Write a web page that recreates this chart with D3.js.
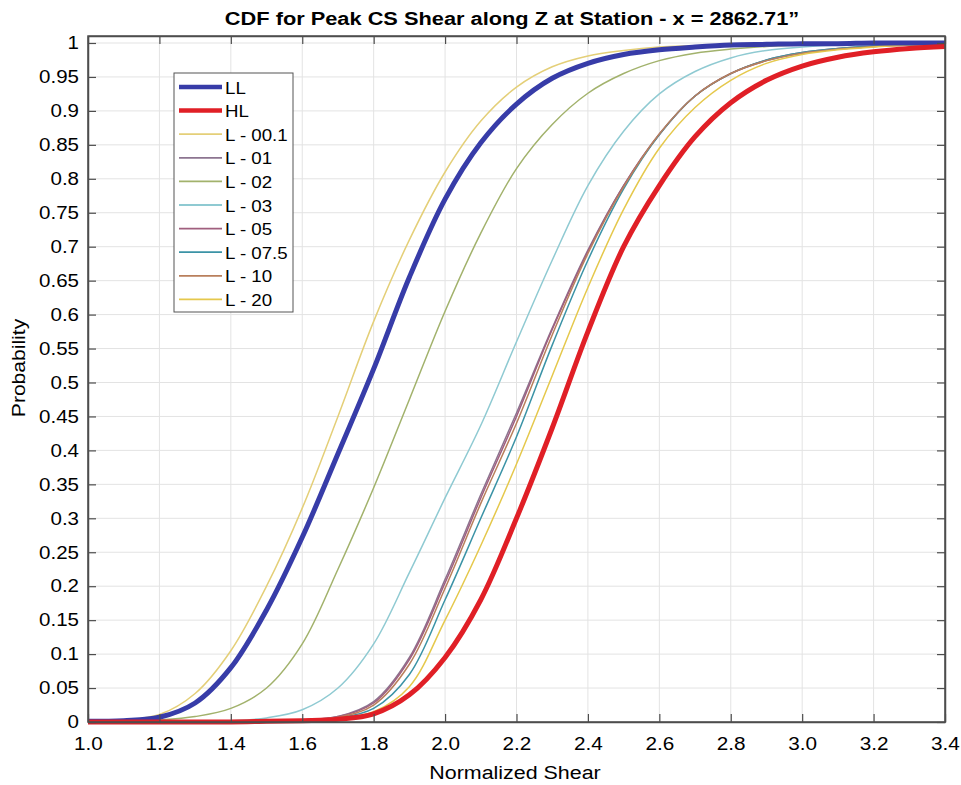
<!DOCTYPE html>
<html>
<head>
<meta charset="utf-8">
<script src="https://cdn.jsdelivr.net/npm/d3@7"></script>
<style>
  body { margin: 0; background: #fff; }
  text { font-family: "Liberation Sans", Arial, Helvetica, sans-serif; fill: #000; }
</style>
</head>
<body>
<div id="chart"></div>
<script>
// shear values where each CDF was read
const shear = [1.0, 1.1, 1.2, 1.3, 1.4, 1.5, 1.6, 1.7, 1.8, 1.9, 2.0, 2.1, 2.2,
  2.3, 2.4, 2.5, 2.6, 2.7, 2.8, 2.9, 3.0, 3.1, 3.2, 3.3, 3.4];

const seriesNames = ["LL", "HL", "L - 00.1", "L - 01", "L - 02", "L - 03", "L - 05", "L - 07.5", "L - 10", "L - 20"];

const cdfLL   = [0.001, 0.002, 0.007, 0.028, 0.08, 0.165, 0.272, 0.395, 0.52, 0.655, 0.77, 0.853, 0.91, 0.948, 0.97, 0.983, 0.99, 0.994, 0.997, 0.998, 0.999, 0.999, 1, 1, 1];
const cdfHL   = [0, 0, 0, 0, 0, 0.001, 0.002, 0.004, 0.012, 0.04, 0.095, 0.18, 0.3, 0.433, 0.575, 0.7, 0.79, 0.862, 0.912, 0.945, 0.966, 0.979, 0.987, 0.992, 0.995];
const cdfL001 = [0.001, 0.003, 0.011, 0.042, 0.105, 0.2, 0.315, 0.45, 0.59, 0.71, 0.81, 0.885, 0.935, 0.965, 0.981, 0.989, 0.994, 0.996, 0.998, 0.999, 0.999, 1, 1, 1, 1];
const cdfL01  = [0, 0, 0, 0.001, 0.001, 0.002, 0.003, 0.008, 0.03, 0.095, 0.21, 0.335, 0.455, 0.58, 0.695, 0.79, 0.865, 0.922, 0.955, 0.975, 0.986, 0.992, 0.995, 0.998, 0.999];
const cdfL02  = [0, 0.001, 0.003, 0.008, 0.02, 0.05, 0.115, 0.225, 0.345, 0.475, 0.605, 0.72, 0.815, 0.88, 0.926, 0.955, 0.974, 0.985, 0.991, 0.995, 0.997, 0.998, 0.999, 1, 1];
const cdfL03  = [0, 0, 0.001, 0.001, 0.002, 0.006, 0.018, 0.05, 0.115, 0.22, 0.33, 0.437, 0.56, 0.68, 0.79, 0.87, 0.925, 0.958, 0.978, 0.989, 0.994, 0.997, 0.998, 0.999, 1];
const cdfL05  = [0, 0, 0, 0.001, 0.001, 0.002, 0.003, 0.008, 0.028, 0.092, 0.205, 0.33, 0.45, 0.578, 0.693, 0.79, 0.866, 0.922, 0.955, 0.974, 0.985, 0.991, 0.995, 0.997, 0.999];
const cdfL075 = [0, 0, 0, 0, 0.001, 0.001, 0.002, 0.006, 0.02, 0.07, 0.18, 0.3, 0.42, 0.555, 0.68, 0.785, 0.865, 0.922, 0.955, 0.975, 0.986, 0.992, 0.996, 0.998, 0.999];
const cdfL10  = [0, 0, 0, 0, 0.001, 0.001, 0.003, 0.007, 0.025, 0.085, 0.197, 0.322, 0.44, 0.57, 0.69, 0.788, 0.866, 0.922, 0.955, 0.974, 0.985, 0.991, 0.995, 0.997, 0.999];
const cdfL20  = [0, 0, 0, 0, 0.001, 0.001, 0.002, 0.005, 0.015, 0.052, 0.15, 0.26, 0.38, 0.51, 0.64, 0.755, 0.845, 0.905, 0.945, 0.97, 0.983, 0.99, 0.994, 0.997, 0.998];

const xTickLabels = ["1.0", "1.2", "1.4", "1.6", "1.8", "2.0", "2.2", "2.4", "2.6", "2.8", "3.0", "3.2", "3.4"];
const yTickLabels = ["0", "0.05", "0.1", "0.15", "0.2", "0.25", "0.3", "0.35", "0.4", "0.45", "0.5",
  "0.55", "0.6", "0.65", "0.7", "0.75", "0.8", "0.85", "0.9", "0.95", "1"];

const colors = ["#373ca8", "#e01f26", "#e4cf78", "#8c7490", "#a2b26c", "#8fcad2", "#a05f7e", "#3b93a6", "#b97f5c", "#e5c84c"];
const widths = [5, 5, 1.5, 1.5, 1.5, 1.5, 1.5, 1.5, 1.5, 1.5];

const allCdf = [cdfLL, cdfHL, cdfL001, cdfL01, cdfL02, cdfL03, cdfL05, cdfL075, cdfL10, cdfL20];

const W = 961, H = 785;
const margin = {left: 88, right: 16, top: 36, bottom: 63};

const svg = d3.select("#chart").append("svg")
  .attr("width", W)
  .attr("height", H);

const x = d3.scaleLinear().domain([1.0, 3.4]).range([margin.left, W - margin.right]);
const y = d3.scaleLinear().domain([0, 1.0103]).range([H - margin.bottom, margin.top]);

const x0 = x.range()[0], x1 = x.range()[1];
const y0 = y.range()[0], y1 = y.range()[1];

// grid
const xTickVals = xTickLabels.map(Number);
const yTickVals = yTickLabels.map(Number);

svg.append("g").selectAll("line")
  .data(xTickVals)
  .enter().append("line")
  .attr("x1", d => x(d)).attr("x2", d => x(d))
  .attr("y1", y0).attr("y2", y1)
  .attr("stroke", "#e3e3e3").attr("stroke-width", 1);

svg.append("g").selectAll("line")
  .data(yTickVals)
  .enter().append("line")
  .attr("x1", x0).attr("x2", x1)
  .attr("y1", d => y(d)).attr("y2", d => y(d))
  .attr("stroke", "#e3e3e3").attr("stroke-width", 1);

// curves
const line = d3.line()
  .x(d => x(d[0]))
  .y(d => y(d[1]))
  .curve(d3.curveCatmullRom.alpha(0.5));

const order = [2, 3, 4, 5, 6, 7, 8, 9, 0, 1];
svg.append("g").selectAll("path")
  .data(order)
  .enter().append("path")
  .attr("d", i => line(shear.map((s, k) => [s, allCdf[i][k]])))
  .attr("fill", "none")
  .attr("stroke", i => colors[i])
  .attr("stroke-width", i => widths[i])
  .attr("stroke-linejoin", "round");

// axes with inward ticks
const fmtX = (d, i) => xTickLabels[i];
const fmtY = (d, i) => yTickLabels[i];

const gx = svg.append("g")
  .attr("transform", "translate(0," + y0 + ")")
  .call(d3.axisBottom(x).tickValues(xTickVals).tickFormat(fmtX).tickSizeInner(-8).tickSizeOuter(0).tickPadding(15));
const gxt = svg.append("g")
  .attr("transform", "translate(0," + y1 + ")")
  .call(d3.axisTop(x).tickValues(xTickVals).tickFormat("").tickSizeInner(-8).tickSizeOuter(0));
const gy = svg.append("g")
  .attr("transform", "translate(" + x0 + ",0)")
  .call(d3.axisLeft(y).tickValues(yTickVals).tickFormat(fmtY).tickSizeInner(-8).tickSizeOuter(0).tickPadding(9));
const gyr = svg.append("g")
  .attr("transform", "translate(" + x1 + ",0)")
  .call(d3.axisRight(y).tickValues(yTickVals).tickFormat("").tickSizeInner(-8).tickSizeOuter(0));

[gx, gxt, gy, gyr].forEach(g => {
  g.select(".domain").attr("stroke", "#4d4d4d").attr("stroke-width", 1.5);
  g.selectAll(".tick line").attr("stroke", "#4d4d4d").attr("stroke-width", 1.2);
  g.selectAll("text").style("font-family", "'Liberation Sans', Arial, sans-serif").style("font-size", "18px").attr("fill", "#000");
});

svg.append("rect")
  .attr("x", x0).attr("y", y1)
  .attr("width", x1 - x0).attr("height", y0 - y1)
  .attr("fill", "none").attr("stroke", "#4d4d4d").attr("stroke-width", 1.5);

// titles
const title = svg.append("text")
  .attr("x", 512).attr("y", 25)
  .attr("text-anchor", "middle")
  .style("font-size", "18px").style("font-weight", "bold")
  .text("CDF for Peak CS Shear along Z at Station - x = 2862.71\u201D");

const xLabel = svg.append("text")
  .attr("x", 515).attr("y", 779)
  .attr("text-anchor", "middle")
  .style("font-size", "18px")
  .text("Normalized Shear");

const yLabel = svg.append("text")
  .attr("transform", "translate(25," + 368 + ") rotate(-90)")
  .attr("text-anchor", "middle")
  .style("font-size", "18px")
  .text("Probability");

// legend
const leg = svg.append("g").attr("transform", "translate(174,73)");
leg.append("rect")
  .attr("width", 119).attr("height", 239)
  .attr("fill", "#fff").attr("stroke", "#555").attr("stroke-width", 1);

const items = leg.selectAll("g.item")
  .data(seriesNames)
  .enter().append("g")
  .attr("class", "item")
  .attr("transform", (d, i) => "translate(0," + (14 + i * 23.6) + ")");

items.append("line")
  .attr("x1", 5).attr("x2", 48)
  .attr("stroke", (d, i) => colors[i])
  .attr("stroke-width", (d, i) => widths[i] === 5 ? 4.5 : 1.8);

items.append("text")
  .attr("x", 51).attr("y", 6.5)
  .style("font-size", "17px")
  .text(d => d);

// the original font is wider than Liberation Sans, stretch the glyphs a bit
function widen(sel, k) {
  sel.each(function() {
    const len = this.getComputedTextLength();
    if (len > 0) d3.select(this).attr("textLength", len * k).attr("lengthAdjust", "spacingAndGlyphs");
  });
}
widen(gx.selectAll("text"), 1.15);
widen(gy.selectAll("text"), 1.14);
widen(title, 1.21);
widen(xLabel, 1.19);
widen(yLabel, 1.17);
widen(items.selectAll("text"), 1.1);
</script>
</body>
</html>
